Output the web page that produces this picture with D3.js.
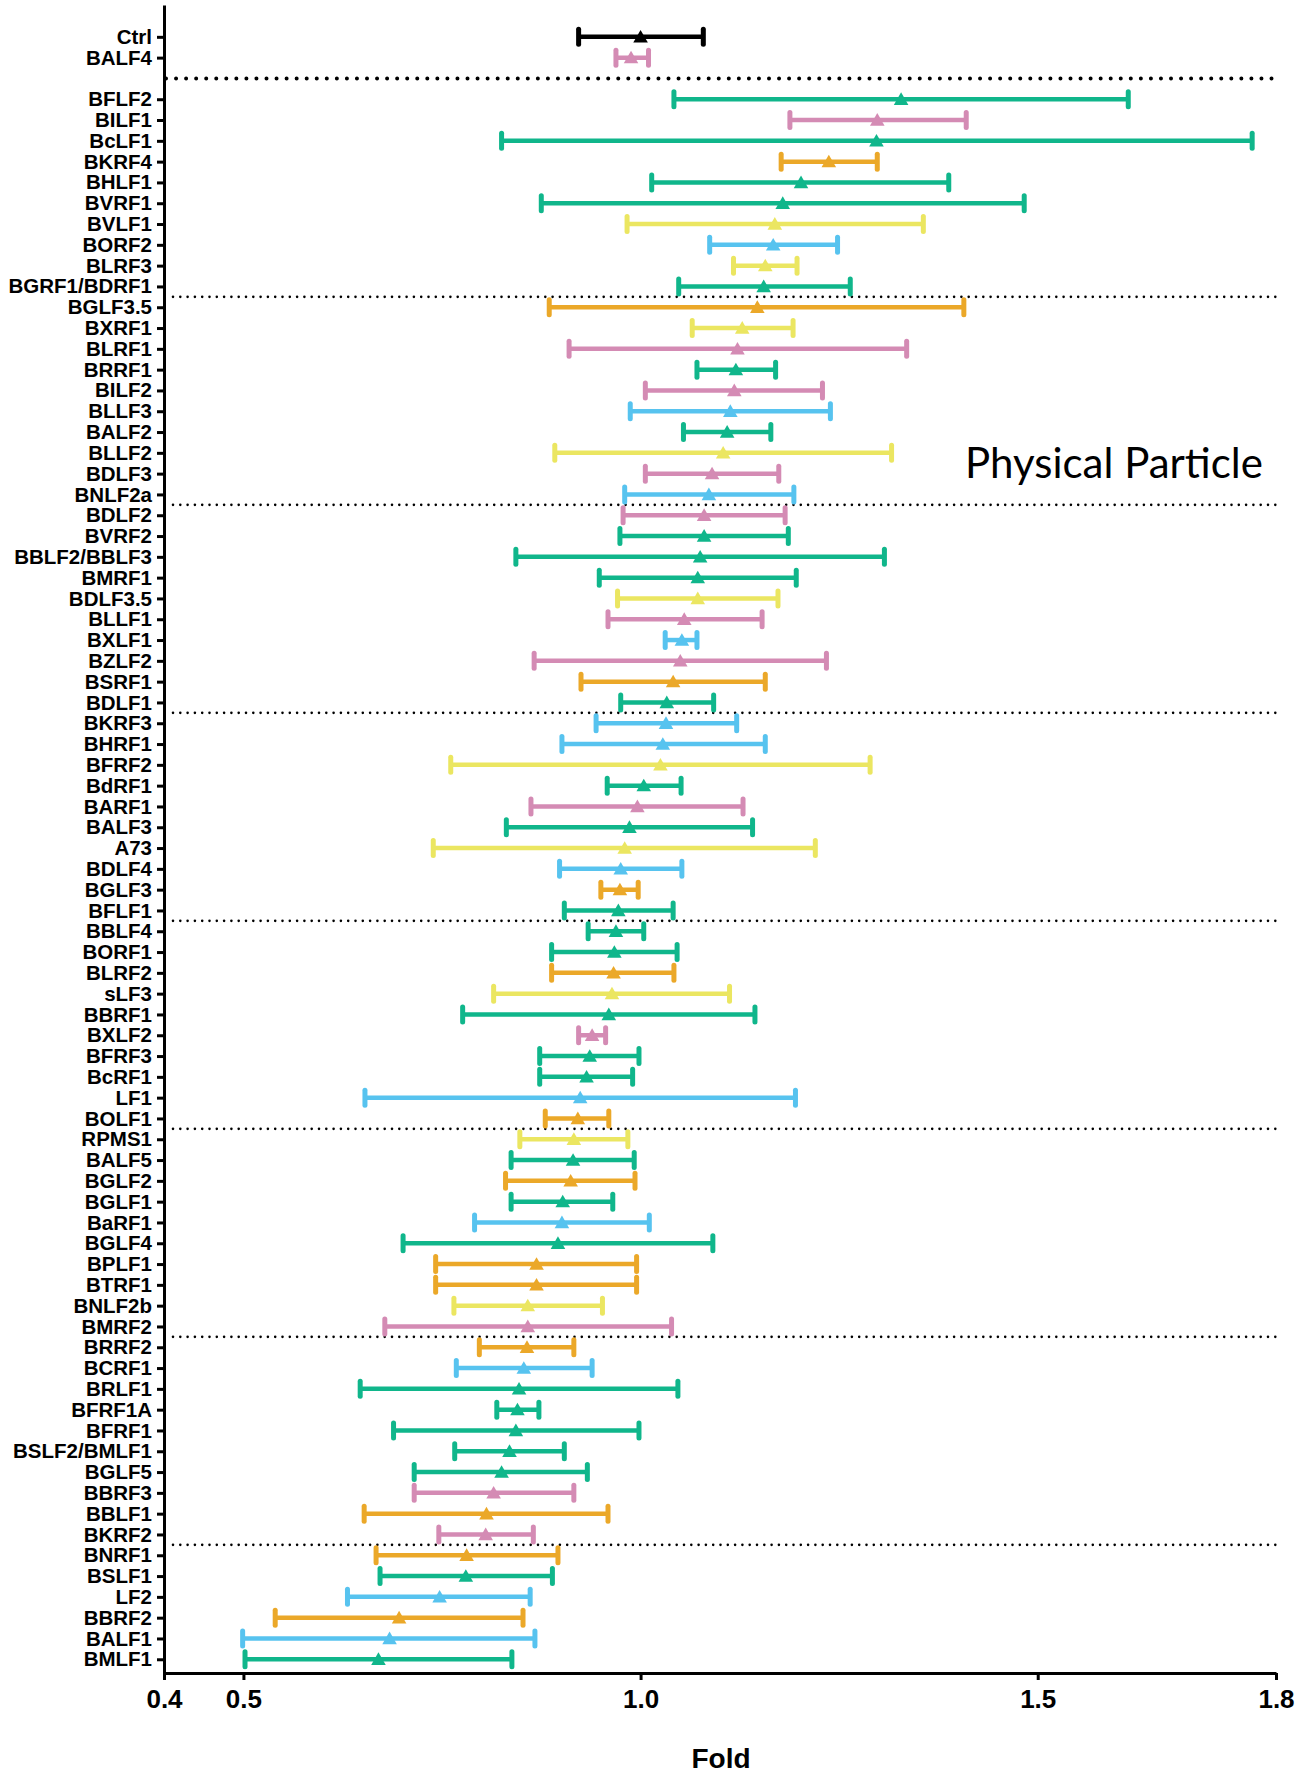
<!DOCTYPE html>
<html>
<head>
<meta charset="utf-8">
<script src="https://cdn.jsdelivr.net/npm/d3@7"></script>
<style>
  html, body { margin: 0; padding: 0; background: #fff; }
  svg { display: block; }
</style>
</head>
<body>
<svg id="chart" width="1303" height="1774"></svg>
<script>
// Fold change per EBV protein: mean with lower / upper interval ends
const labels = [
  "Ctrl","BALF4",
  "BFLF2","BILF1","BcLF1","BKRF4","BHLF1","BVRF1","BVLF1","BORF2","BLRF3","BGRF1/BDRF1",
  "BGLF3.5","BXRF1","BLRF1","BRRF1","BILF2","BLLF3","BALF2","BLLF2","BDLF3","BNLF2a",
  "BDLF2","BVRF2","BBLF2/BBLF3","BMRF1","BDLF3.5","BLLF1","BXLF1","BZLF2","BSRF1","BDLF1",
  "BKRF3","BHRF1","BFRF2","BdRF1","BARF1","BALF3","A73","BDLF4","BGLF3","BFLF1",
  "BBLF4","BORF1","BLRF2","sLF3","BBRF1","BXLF2","BFRF3","BcRF1","LF1","BOLF1",
  "RPMS1","BALF5","BGLF2","BGLF1","BaRF1","BGLF4","BPLF1","BTRF1","BNLF2b","BMRF2",
  "BRRF2","BCRF1","BRLF1","BFRF1A","BFRF1","BSLF2/BMLF1","BGLF5","BBRF3","BBLF1","BKRF2",
  "BNRF1","BSLF1","LF2","BBRF2","BALF1","BMLF1"
];

const means = [
  1.000, 0.988,
  1.328, 1.298, 1.297, 1.237, 1.202, 1.179, 1.169, 1.167, 1.157, 1.155,
  1.147, 1.128, 1.122, 1.120, 1.118, 1.113, 1.109, 1.104, 1.090, 1.086,
  1.080, 1.080, 1.075, 1.072, 1.072, 1.055, 1.052, 1.050, 1.041, 1.033,
  1.032, 1.028, 1.025, 1.004, 0.996, 0.986, 0.980, 0.975, 0.974, 0.972,
  0.969, 0.967, 0.966, 0.964, 0.960, 0.939, 0.936, 0.932, 0.924, 0.921,
  0.916, 0.915, 0.912, 0.902, 0.901, 0.896, 0.869, 0.869, 0.858, 0.858,
  0.857, 0.853, 0.847, 0.845, 0.843, 0.835, 0.825, 0.815, 0.806, 0.805,
  0.781, 0.780, 0.747, 0.696, 0.684, 0.670
];

const lows = [
  0.922, 0.969,
  1.042, 1.188, 0.825, 1.177, 1.014, 0.875, 0.983, 1.087, 1.117, 1.048,
  0.885, 1.065, 0.910, 1.071, 1.006, 0.987, 1.054, 0.892, 1.006, 0.980,
  0.978, 0.974, 0.843, 0.948, 0.971, 0.959, 1.031, 0.866, 0.925, 0.975,
  0.944, 0.901, 0.761, 0.958, 0.862, 0.831, 0.739, 0.898, 0.950, 0.904,
  0.934, 0.888, 0.888, 0.815, 0.776, 0.922, 0.873, 0.873, 0.653, 0.880,
  0.848, 0.837, 0.830, 0.837, 0.791, 0.701, 0.742, 0.742, 0.765, 0.678,
  0.797, 0.768, 0.647, 0.819, 0.689, 0.766, 0.715, 0.715, 0.652, 0.746,
  0.667, 0.672, 0.631, 0.540, 0.499, 0.502
];

const highs = [
  1.079, 1.010,
  1.614, 1.410, 1.770, 1.298, 1.388, 1.483, 1.356, 1.248, 1.197, 1.264,
  1.407, 1.192, 1.335, 1.170, 1.229, 1.239, 1.164, 1.316, 1.174, 1.193,
  1.182, 1.186, 1.307, 1.196, 1.173, 1.153, 1.071, 1.234, 1.157, 1.092,
  1.121, 1.157, 1.289, 1.051, 1.129, 1.141, 1.220, 1.052, 0.997, 1.041,
  1.004, 1.046, 1.042, 1.112, 1.144, 0.956, 0.998, 0.990, 1.195, 0.960,
  0.984, 0.992, 0.993, 0.965, 1.011, 1.091, 0.995, 0.995, 0.952, 1.039,
  0.916, 0.939, 1.047, 0.872, 0.998, 0.904, 0.933, 0.916, 0.959, 0.865,
  0.896, 0.889, 0.861, 0.852, 0.867, 0.838
];

const groups = [
  "black","pink",
  "green","pink","green","orange","green","green","yellow","blue","yellow","green",
  "orange","yellow","pink","green","pink","blue","green","yellow","pink","blue",
  "pink","green","green","green","yellow","pink","blue","pink","orange","green",
  "blue","blue","yellow","green","pink","green","yellow","blue","orange","green",
  "green","green","orange","yellow","green","pink","green","green","blue","orange",
  "yellow","green","orange","green","blue","green","orange","orange","yellow","pink",
  "orange","blue","green","green","green","green","green","pink","orange","pink",
  "orange","green","blue","orange","blue","green"
];

// labels that close a block and get a dotted rule beneath them
const blockEnds = ["BALF4","BGRF1/BDRF1","BNLF2a","BDLF1","BFLF1","BOLF1","BMRF2","BKRF2"];

const xTicks = [0.4, 0.5, 1.0, 1.5, 1.8];
const xTitle = "Fold";
const panelTitle = "Physical Particle";

const palette = {
  black: "#000000",
  pink: "#d48bb4",
  green: "#10b68b",
  orange: "#eba829",
  yellow: "#ebe661",
  blue: "#57c3ef"
};

const rows = labels.map((name, i) => ({
  name, mean: means[i], low: lows[i], high: highs[i], group: groups[i],
  slot: i < 2 ? i : i + 1        // an empty slot follows the control pair
}));

const svg = d3.select("#chart");

const x = d3.scaleLinear().domain([0.4, 1.8]).range([164, 1276]);
const y = d3.scaleLinear().domain([-1.53, 78.66]).range([5, 1673]);

// y axis with gene names
const yAxis = d3.axisLeft(y)
  .tickValues(rows.map(r => r.slot))
  .tickFormat(s => rows.find(r => r.slot === s).name)
  .tickSize(7).tickSizeOuter(0).tickPadding(5);

const gy = svg.append("g").attr("transform", `translate(${x(0.4)},0)`).call(yAxis);
gy.select(".domain").attr("stroke", "#000").attr("stroke-width", 3);
gy.selectAll(".tick line").attr("stroke", "#000").attr("stroke-width", 3);
gy.selectAll(".tick text")
  .attr("fill", "#000")
  .style("font-family", "'Liberation Sans', Arial, sans-serif")
  .style("font-weight", "bold")
  .style("font-size", "20.5px");

// x axis
const xAxis = d3.axisBottom(x)
  .tickValues(xTicks)
  .tickFormat(d3.format(".1f"))
  .tickSize(7).tickSizeOuter(0).tickPadding(10);

const gx = svg.append("g").attr("transform", `translate(0,${y.range()[1]})`).call(xAxis);
gx.select(".domain").attr("stroke", "#000").attr("stroke-width", 3);
gx.selectAll(".tick line").attr("stroke", "#000").attr("stroke-width", 3);
gx.selectAll(".tick text")
  .attr("fill", "#000")
  .style("font-family", "'Liberation Sans', Arial, sans-serif")
  .style("font-weight", "bold")
  .style("font-size", "26px");

svg.append("text")
  .attr("x", 721).attr("y", 1768)
  .attr("text-anchor", "middle")
  .style("font-family", "'Liberation Sans', Arial, sans-serif")
  .style("font-weight", "bold")
  .style("font-size", "28px")
  .text(xTitle);

// dotted block separators
const sepSlots = blockEnds.map(name => {
  const r = rows.find(d => d.name === name);
  return name === "BALF4" ? r.slot + 1 : r.slot + 0.5;
});

svg.append("g").selectAll("line")
  .data(sepSlots)
  .join("line")
  .attr("x1", (d, i) => i === 0 ? x(0.4) + 2 : x(0.4) + 9)
  .attr("x2", x(1.8))
  .attr("y1", d => y(d)).attr("y2", d => y(d))
  .attr("stroke", "#000")
  .attr("stroke-linecap", "round")
  .attr("stroke-width", (d, i) => i === 0 ? 4 : 2.6)
  .attr("stroke-dasharray", (d, i) => i === 0 ? "0 10.05" : "0 7.3");

// error bars
const bars = svg.append("g").selectAll("g")
  .data(rows)
  .join("g")
  .attr("stroke", d => palette[d.group]);

bars.append("line")
  .attr("x1", d => x(d.low)).attr("x2", d => x(d.high))
  .attr("y1", d => y(d.slot)).attr("y2", d => y(d.slot))
  .attr("stroke-width", 4.5);

bars.selectAll(".cap")
  .data(d => [{v: d.low, s: d.slot}, {v: d.high, s: d.slot}])
  .join("line")
  .attr("class", "cap")
  .attr("x1", c => x(c.v)).attr("x2", c => x(c.v))
  .attr("y1", c => y(c.s) - 7.5).attr("y2", c => y(c.s) + 7.5)
  .attr("stroke-width", 5)
  .attr("stroke-linecap", "round");

const tri = d3.symbol(d3.symbolTriangle, 92);
svg.append("g").selectAll("path")
  .data(rows)
  .join("path")
  .attr("d", tri)
  .attr("transform", d => `translate(${x(d.mean)},${y(d.slot) + 1.5})`)
  .attr("fill", d => palette[d.group]);

// panel title
svg.append("text")
  .attr("x", 965).attr("y", 478)
  .style("font-family", "Lato, 'Open Sans', sans-serif")
  .style("font-size", "42px")
  .attr("fill", "#000")
  .text(panelTitle);
</script>
</body>
</html>
